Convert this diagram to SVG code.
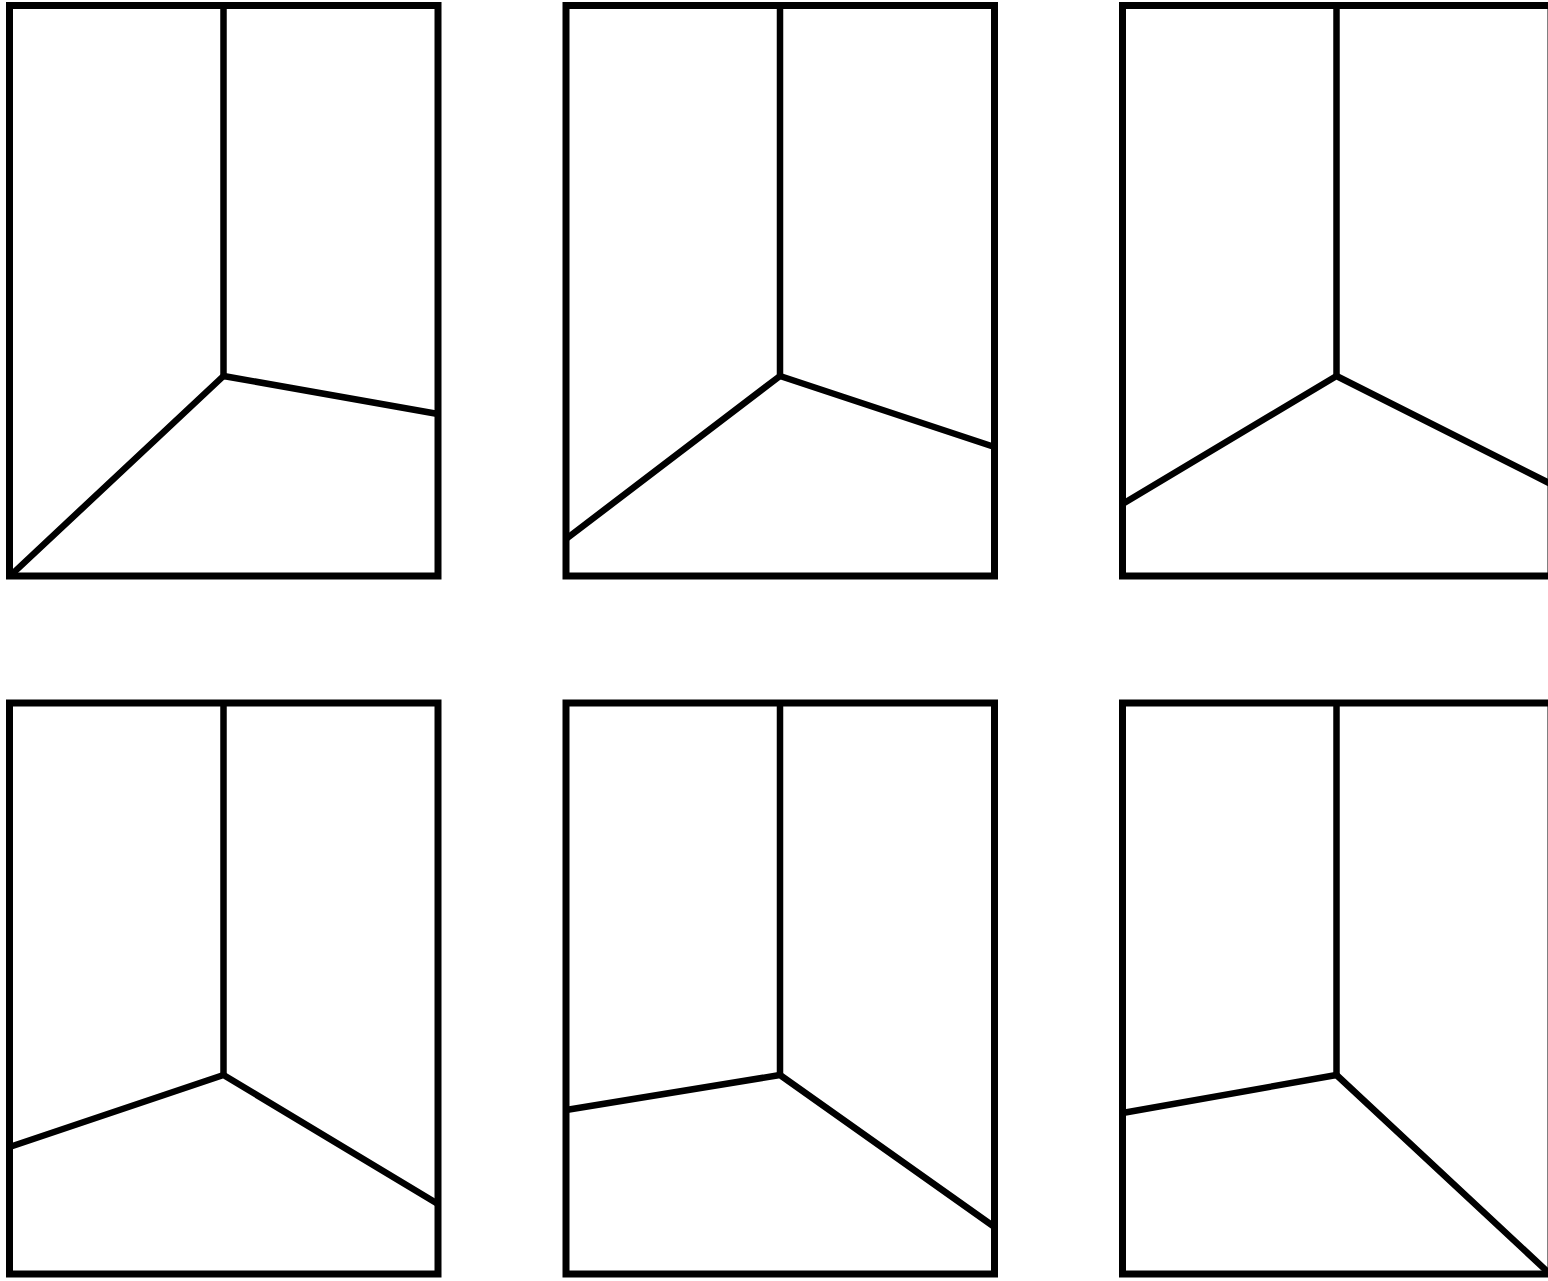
<svg xmlns="http://www.w3.org/2000/svg" width="1548" height="1281" viewBox="0 0 1548 1281">
<style>
.frame{fill:none;stroke:#000;stroke-width:7}
.cut{fill:none;stroke:#000;stroke-width:6.5;stroke-linejoin:round}
</style>
<rect width="1548" height="1281" fill="#fff"/>
<g id="panel1">
<rect class="frame" x="9.5" y="5.5" width="428.5" height="570.5"/>
<polyline class="cut" points="223.5,5.5 223.5,376"/>
<polyline class="cut" points="10,576 223.5,376 438,414"/>
</g>
<g id="panel2">
<rect class="frame" x="566" y="5.5" width="428.5" height="570.5"/>
<polyline class="cut" points="780,5.5 780,376"/>
<polyline class="cut" points="566,539 780,376 994.5,447"/>
</g>
<g id="panel3">
<rect class="frame" x="1122.5" y="5.5" width="428.5" height="570.5"/>
<polyline class="cut" points="1336.5,5.5 1336.5,376"/>
<polyline class="cut" points="1122.5,504 1336.5,376 1551,484"/>
</g>
<g id="panel4">
<rect class="frame" x="9.5" y="703" width="428.5" height="571"/>
<polyline class="cut" points="223.5,703 223.5,1075"/>
<polyline class="cut" points="9.5,1147 223.5,1075 438,1204"/>
</g>
<g id="panel5">
<rect class="frame" x="566" y="703" width="428.5" height="571"/>
<polyline class="cut" points="780,703 780,1075"/>
<polyline class="cut" points="566,1110 780,1075 994.5,1227"/>
</g>
<g id="panel6">
<rect class="frame" x="1122.5" y="703" width="428.5" height="571"/>
<polyline class="cut" points="1336.5,703 1336.5,1075"/>
<polyline class="cut" points="1122.5,1113 1336.5,1075 1550,1274"/>
</g>
</svg>
